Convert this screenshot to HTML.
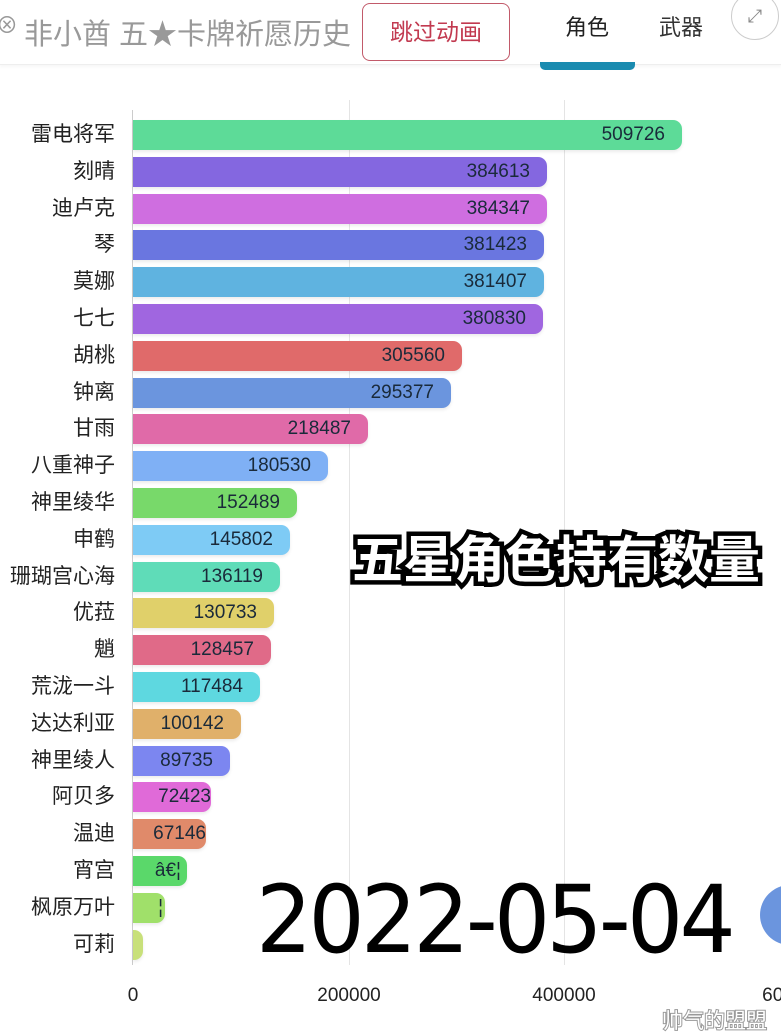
<!DOCTYPE html>
<html><head><meta charset="utf-8"><style>
body{margin:0;width:781px;height:1036px;background:#fff;position:relative;overflow:hidden;font-family:"Liberation Sans","Noto Sans CJK SC",sans-serif}
.a{position:absolute}
.lab{position:absolute;right:666px;font-size:21px;color:#222;line-height:30px;white-space:nowrap}
.bar{position:absolute;left:133px;height:30px;border-radius:0 9px 9px 0;display:flex;justify-content:flex-end;align-items:center;overflow:hidden;font-size:19px;color:#1a2a3a;box-sizing:border-box;padding-right:17px;white-space:nowrap;box-shadow:0 2px 3px rgba(0,0,0,0.08)}
.tick{position:absolute;top:985px;font-size:19px;color:#222;transform:translateX(-50%)}
</style></head><body>
<div class="a" style="left:0;top:0;width:781px;height:64px;border-bottom:1px solid #eee;box-shadow:0 2px 3px rgba(0,0,0,0.04)"></div>
<div class="a" style="left:-4px;top:8px;font-size:22px;color:#999">⊗</div>
<div class="a" style="left:24px;top:11px;font-size:29px;color:#999;white-space:nowrap">非小酋 五★卡牌祈愿历史</div>
<div class="a" style="left:362px;top:3px;width:148px;height:58px;border:1.5px solid #c25a6a;border-radius:8px;box-sizing:border-box;color:#c23a50;font-size:23px;text-align:center;line-height:56px">跳过动画</div>
<div class="a" style="left:565px;top:10px;font-size:22px;color:#222">角色</div>
<div class="a" style="left:659px;top:10px;font-size:22px;color:#333">武器</div>
<div class="a" style="left:540px;top:62px;width:95px;height:8px;background:#1a8bb0;border-radius:0 0 5px 5px"></div>
<div class="a" style="left:731px;top:-8px;width:46px;height:46px;border:1.5px solid #ccc;border-radius:50%;text-align:center;line-height:46px;color:#888;font-size:18px">⤢</div>

<div class="a" style="left:349px;top:100px;width:1px;height:865px;background:#e4e4e4"></div>
<div class="a" style="left:564px;top:100px;width:1px;height:865px;background:#e4e4e4"></div>
<div class="a" style="left:132px;top:110px;width:1px;height:855px;background:#ccc"></div>

<div class="lab" style="top:120px">雷电将军</div><div class="bar" style="top:120px;width:549px;background:#5ddb98">509726</div>
<div class="lab" style="top:157px">刻晴</div><div class="bar" style="top:157px;width:414px;background:#8467e0">384613</div>
<div class="lab" style="top:194px">迪卢克</div><div class="bar" style="top:194px;width:414px;background:#cf6ee0">384347</div>
<div class="lab" style="top:230px">琴</div><div class="bar" style="top:230px;width:411px;background:#6a76e0">381423</div>
<div class="lab" style="top:267px">莫娜</div><div class="bar" style="top:267px;width:411px;background:#5fb3e0">381407</div>
<div class="lab" style="top:304px">七七</div><div class="bar" style="top:304px;width:410px;background:#a066e0">380830</div>
<div class="lab" style="top:341px">胡桃</div><div class="bar" style="top:341px;width:329px;background:#e06a6a">305560</div>
<div class="lab" style="top:378px">钟离</div><div class="bar" style="top:378px;width:318px;background:#6b95de">295377</div>
<div class="lab" style="top:414px">甘雨</div><div class="bar" style="top:414px;width:235px;background:#e06aa8">218487</div>
<div class="lab" style="top:451px">八重神子</div><div class="bar" style="top:451px;width:195px;background:#7fb0f5">180530</div>
<div class="lab" style="top:488px">神里绫华</div><div class="bar" style="top:488px;width:164px;background:#78d96a">152489</div>
<div class="lab" style="top:525px">申鹤</div><div class="bar" style="top:525px;width:157px;background:#7ecbf5">145802</div>
<div class="lab" style="top:562px">珊瑚宫心海</div><div class="bar" style="top:562px;width:147px;background:#5fdcb8">136119</div>
<div class="lab" style="top:598px">优菈</div><div class="bar" style="top:598px;width:141px;background:#e0d06a">130733</div>
<div class="lab" style="top:635px">魈</div><div class="bar" style="top:635px;width:138px;background:#e06a88">128457</div>
<div class="lab" style="top:672px">荒泷一斗</div><div class="bar" style="top:672px;width:127px;background:#5ed8e0">117484</div>
<div class="lab" style="top:709px">达达利亚</div><div class="bar" style="top:709px;width:108px;background:#e0b06a">100142</div>
<div class="lab" style="top:746px">神里绫人</div><div class="bar" style="top:746px;width:97px;background:#7c86f0">89735</div>
<div class="lab" style="top:782px">阿贝多</div><div class="bar" style="top:782px;width:78px;background:#e06ad8;padding-right:0">72423</div>
<div class="lab" style="top:819px">温迪</div><div class="bar" style="top:819px;width:73px;background:#e08a6a;padding-right:0">67146</div>
<div class="lab" style="top:856px">宵宫</div><div class="bar" style="top:856px;width:54px;background:#5ad86a;padding-right:6px">â€¦</div>
<div class="lab" style="top:893px">枫原万叶</div><div class="bar" style="top:893px;width:32px;background:#a0e06a;padding-right:2px">¦</div>
<div class="lab" style="top:930px">可莉</div><div class="bar" style="top:930px;width:10px;background:#c8e07a;padding-right:0"></div>

<div class="a" style="left:352px;top:519px;font-size:51px;font-weight:bold;color:#fff;-webkit-text-stroke:9px #000;paint-order:stroke fill;white-space:nowrap;font-family:'Noto Sans CJK SC',sans-serif">五星角色持有数量</div>
<div class="a" style="left:256px;top:866px;font-size:94px;color:#000;white-space:nowrap;font-family:'DejaVu Sans',sans-serif;letter-spacing:-4px;transform:scaleX(0.94);transform-origin:left">2022-05-04</div>
<div class="a" style="left:760px;top:885px;width:60px;height:60px;border-radius:50%;background:#6b95de"></div>

<div class="tick" style="left:133px">0</div>
<div class="tick" style="left:349px">200000</div>
<div class="tick" style="left:564px">400000</div>
<div class="tick" style="left:778px">600</div>
<div class="a" style="left:662px;top:1005px;font-size:21px;color:#fff;-webkit-text-stroke:2px #999;paint-order:stroke fill">帅气的盟盟</div>
</body></html>
